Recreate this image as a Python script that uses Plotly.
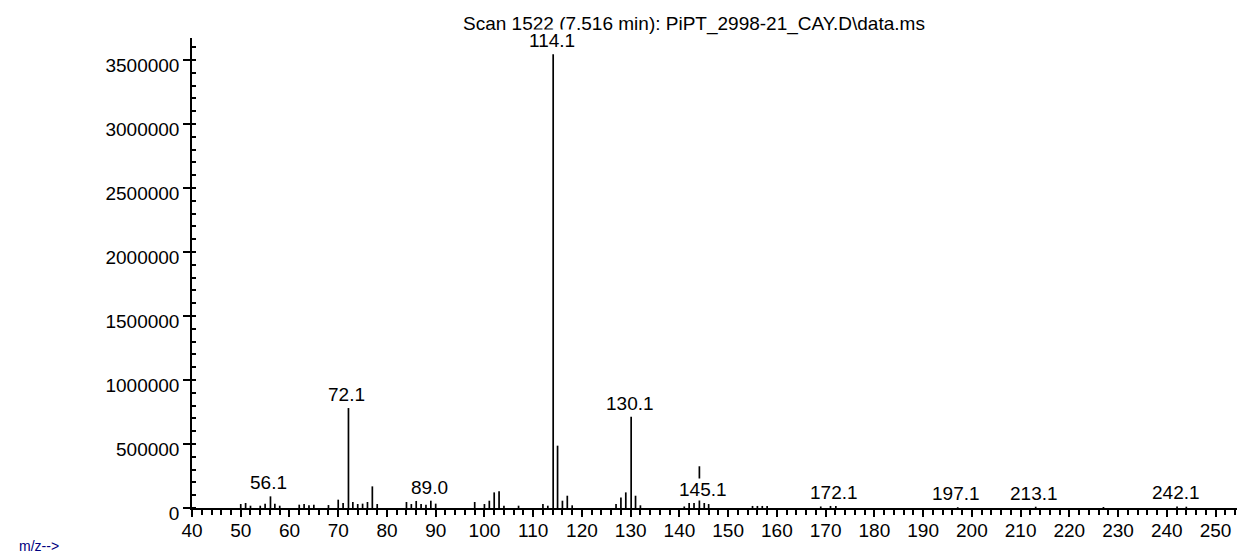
import plotly.graph_objects as go

# ---- data ----
mz = [50, 51, 52, 54, 55, 56.1, 57, 58, 62, 63, 64, 65, 68, 70, 71, 72.1, 73, 74, 75, 76, 77, 78,
      84, 85, 86, 87, 88, 89.0, 90, 98, 100, 101, 102, 103, 104, 107, 112, 113, 114.1, 115, 116,
      117, 118, 127, 128, 129, 130.1, 131, 132, 141, 142, 143, 144.1, 145.1, 146, 155, 156, 157,
      158, 169, 171, 172.1, 197.1, 213.1, 227, 242.1, 244]
abundance = [31000, 39000, 18000, 18000, 34000, 91000, 34000, 18000, 26000, 31000, 21000, 26000,
             23000, 65000, 39000, 781000, 47000, 31000, 34000, 47000, 169000, 31000,
             47000, 31000, 55000, 31000, 26000, 57000, 34000, 47000, 31000, 57000, 122000, 130000,
             18000, 18000, 31000, 18000, 3545000, 487000, 57000, 96000, 21000, 31000, 83000,
             122000, 713000, 96000, 21000, 12000, 39000, 39000, 326000, 39000, 31000, 16000,
             16000, 16000, 16000, 12000, 16000, 16000, 6000, 10000, 8000, 12000, 10000]
label_mz = [56.1, 72.1, 89.0, 114.1, 130.1, 145.1, 172.1, 197.1, 213.1, 242.1]
label_text = ["56.1", "72.1", "89.0", "114.1", "130.1", "145.1", "172.1", "197.1", "213.1", "242.1"]
y_ticks = [0, 500000, 1000000, 1500000, 2000000, 2500000, 3000000, 3500000]
x_ticks = list(range(40, 251, 10))
title_text = "Scan 1522 (7.516 min): PiPT_2998-21_CAY.D\\data.ms"
x_label = "m/z-->"

FONT = "Liberation Sans, Arial, sans-serif"
FS = 19

# stick spectrum as line segments
xs, ys = [], []
for m, a in zip(mz, abundance):
    xs += [m, m, None]
    ys += [0, a, None]

fig = go.Figure()
fig.add_trace(go.Scatter(x=xs, y=ys, mode="lines",
                         line=dict(color="black", width=1.7),
                         hoverinfo="skip", showlegend=False))

annotations = [dict(text=title_text, xref="paper", yref="paper", x=0.4805, y=1.03,
                    xanchor="center", yanchor="middle", showarrow=False,
                    font=dict(family=FONT, size=FS, color="black"))]
lookup = dict(zip(mz, abundance))
for m, t in zip(label_mz, label_text):
    annotations.append(dict(text=t, x=m, y=lookup[m], xref="x", yref="y",
                            xanchor="center", yanchor="bottom", showarrow=False,
                            xshift=-1.5, yshift=2, bgcolor="white", borderpad=0,
                            font=dict(family=FONT, size=FS, color="black")))
annotations.append(dict(text=x_label, xref="paper", yref="paper", x=-0.125, y=-0.08,
                        xanchor="right", yanchor="middle", showarrow=False,
                        font=dict(family=FONT, size=14, color="#000080")))

fig.update_layout(
    width=1238, height=556,
    margin=dict(l=192, r=1, t=38, b=48),
    paper_bgcolor="white", plot_bgcolor="white",
    annotations=annotations,
    font=dict(family=FONT, size=FS, color="black"),
)
fig.update_xaxes(range=[40, 254.4], tickvals=x_ticks, ticks="outside", ticklen=7,
                 tickwidth=1.5, tickcolor="black", showline=True, linecolor="black",
                 linewidth=1.5, showgrid=False, zeroline=False, ticklabelstandoff=-3,
                 tickfont=dict(family=FONT, size=FS, color="black"),
                 minor=dict(dtick=2, ticks="outside", ticklen=5, tickwidth=1.5,
                            tickcolor="black", showgrid=False))
fig.update_yaxes(range=[0, 3672000], tickvals=y_ticks, tickformat="d", ticks="outside",
                 ticklen=7, tickwidth=1.5, tickcolor="black", showline=True,
                 linecolor="black", linewidth=1.5, showgrid=False, zeroline=False,
                 ticklabelshift=5,
                 tickfont=dict(family=FONT, size=FS, color="black"),
                 minor=dict(dtick=100000, ticks="inside", ticklen=4, tickwidth=1.5,
                            tickcolor="black", showgrid=False))

fig.write_html("out.html", config={"displayModeBar": False},
               post_script="document.body.style.margin='0';document.body.style.overflow='hidden';")
